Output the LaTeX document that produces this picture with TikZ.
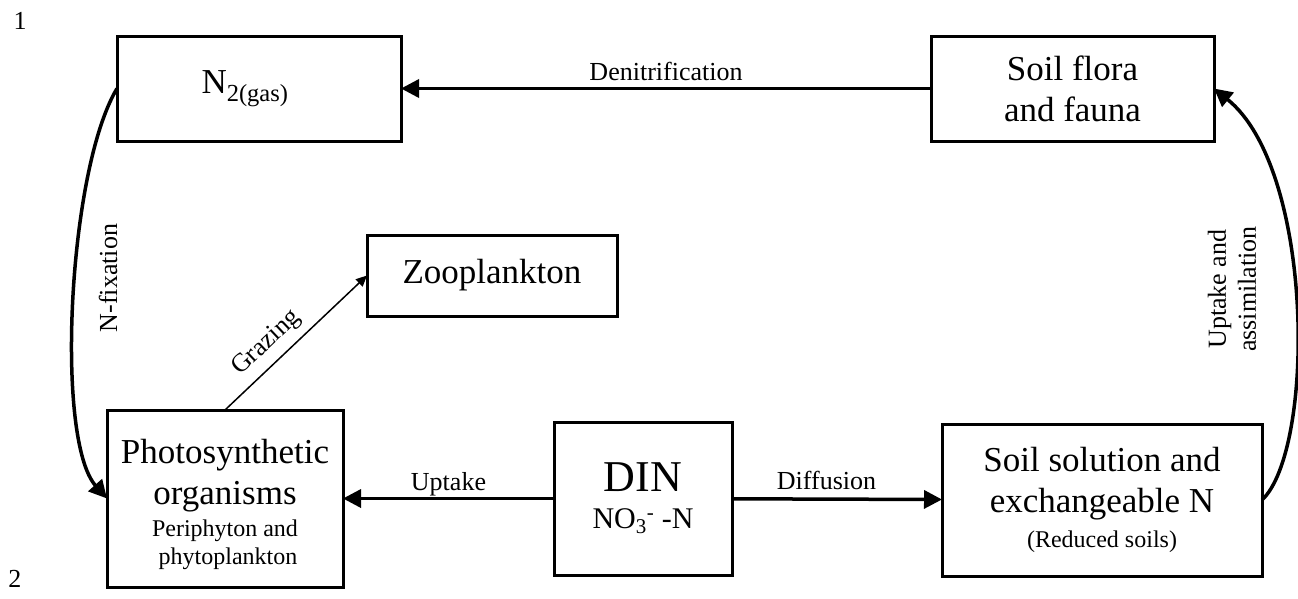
\documentclass[tikz,border=0pt]{standalone}
\usepackage{fontspec}
\setmainfont{Liberation Serif}
\usetikzlibrary{arrows.meta,positioning}

\begin{document}
\begin{tikzpicture}[x=1pt,y=-1pt,
    box/.style={draw,line width=3pt,inner sep=0pt,outer sep=0pt,align=center,
      font=\fontsize{35}{41}\selectfont},
    flow/.style={line width=3.5pt,-{Triangle[length=18pt,width=18pt]}},
    thinflow/.style={line width=1.5pt,-{Triangle[length=11pt,width=10pt]}},
    lbl/.style={font=\fontsize{26}{30}\selectfont,inner sep=0pt}]
\newcommand{\smalltext}{\fontsize{24}{27}\selectfont}
\useasboundingbox (0,0) rectangle (1298,598);

% line numbers
\node[lbl] (ln1) at (20,21) {1};
\node[lbl] (ln2) at (15,579) {2};

% compartments
\node[box,minimum width=284pt,minimum height=105pt] (n2) at (259,88.5)
  {\hspace*{-28pt}\raisebox{-12pt}{N\textsubscript{2(gas)}}};
\node[box,minimum width=283pt,minimum height=105pt] (flora) at (1072.5,88.5)
  {Soil flora\\and fauna};
\node[box,minimum width=250pt,minimum height=81pt] (zoo) at (492,275.5)
  {Zooplankton};
\node[box,minimum width=236pt,minimum height=177pt] (photo) at (225,498.5)
  {\rule{0pt}{36pt}Photosynthetic\\organisms\\[-9pt]
   \smalltext Periphyton and\\[-13pt]\smalltext\hspace*{6pt}phytoplankton};
\node[box,minimum width=178pt,minimum height=153pt] (din) at (643,498.5)
  {\fontsize{44}{50}\selectfont DIN\\[-4pt]
   \fontsize{30}{36}\selectfont NO\textsubscript{3}\textsuperscript{-} -N};
\node[box,minimum width=320pt,minimum height=152pt] (soil) at (1102,500)
  {Soil solution and\\exchangeable N\\[-6pt]
   \smalltext (Reduced soils)};

% fluxes
\draw[flow] (flora) -- node[lbl,anchor=base,yshift=8pt] {Denitrification} (n2);
\draw[flow] (din) -- node[lbl,anchor=base,yshift=8pt] {Uptake} (photo);
\draw[flow] (din) -- node[lbl,anchor=base,yshift=10pt,pos=.45] {Diffusion} (soil);
\draw[thinflow] (photo.north) -- node[lbl,sloped,above=8pt,pos=.39] {Grazing} (zoo.west);
\draw[flow] (n2.west) .. controls (68,170) and (55,440) .. (photo.west);
\draw[flow] (soil.east) .. controls (1315,450) and (1315,170) .. (flora.east);

\node[lbl,rotate=90] (nfix) at (108,278) {N-fixation};
\node[lbl,rotate=90,align=center] (assim) at (1232,289) {Uptake and\\assimilation};
\end{tikzpicture}
\end{document}
